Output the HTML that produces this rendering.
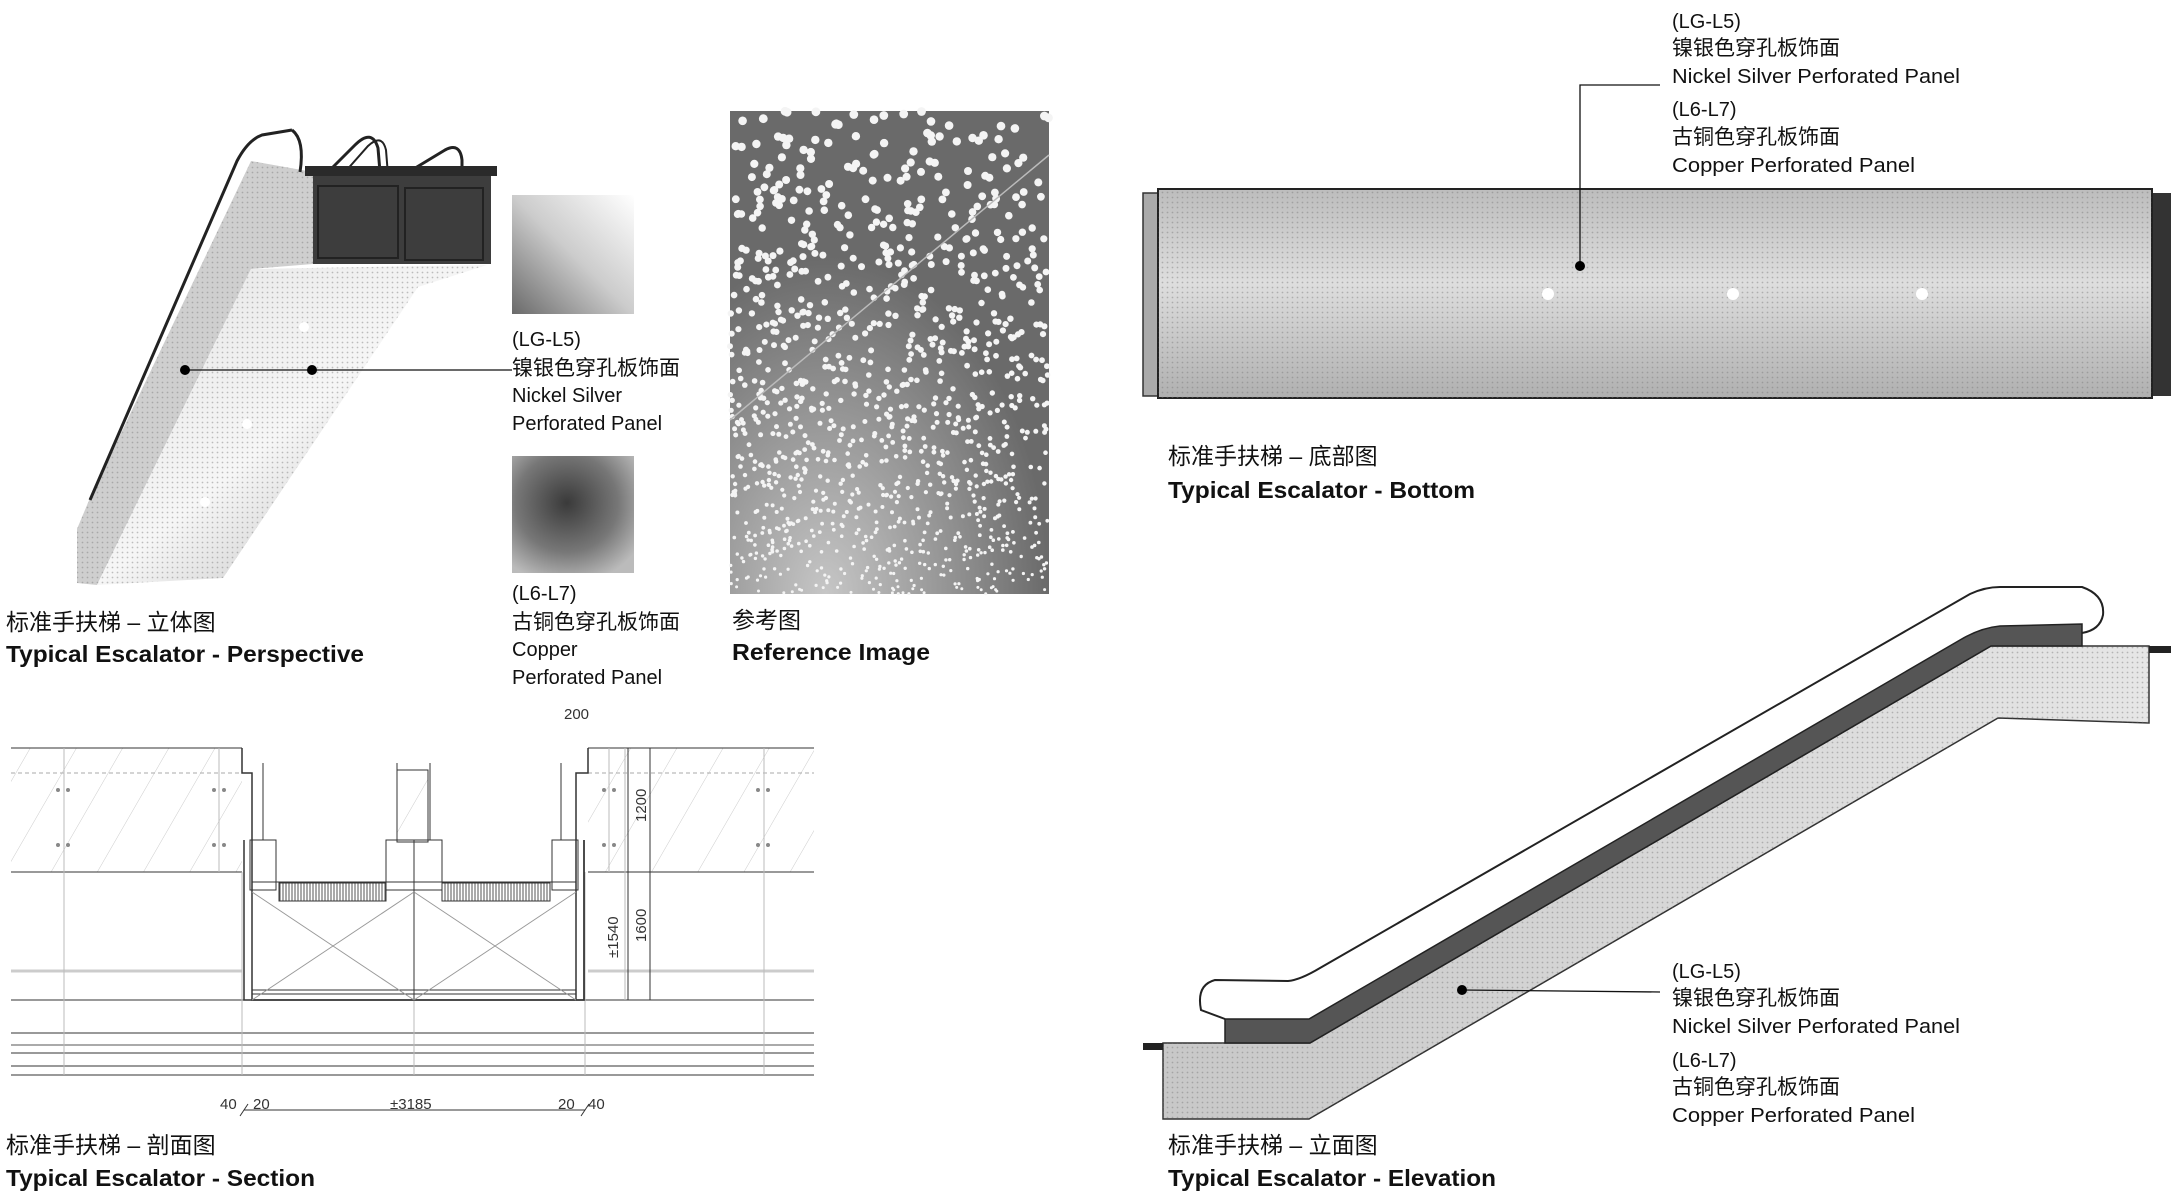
<!DOCTYPE html>
<html><head><meta charset="utf-8"><style>
html,body{margin:0;padding:0;background:#fff;width:2173px;height:1192px;overflow:hidden}
svg{display:block}
text{font-family:"Liberation Sans","Noto Sans CJK SC",sans-serif;fill:#111}
.lb{font-size:20px}
.cn{font-size:21px}
.capc{font-size:23px}
.cap{font-size:23px;font-weight:bold}
.dim{font-size:15px;fill:#333}
</style></head><body>
<svg id="s" width="2173" height="1192" viewBox="0 0 2173 1192" xmlns="http://www.w3.org/2000/svg">
<defs>
<pattern id="perf" width="5" height="5" patternUnits="userSpaceOnUse"><rect width="5" height="5" fill="none"/><circle cx="2.5" cy="2.5" r="0.9" fill="#777" opacity=".45"/></pattern>
<pattern id="hatch" width="40" height="40" patternUnits="userSpaceOnUse" patternTransform="rotate(30)"><line x1="0" y1="0" x2="0" y2="40" stroke="#ccc" stroke-width="1"/></pattern>
<pattern id="vh" width="3" height="10" patternUnits="userSpaceOnUse"><line x1="1" y1="0" x2="1" y2="10" stroke="#555" stroke-width="1"/></pattern>
<linearGradient id="sw1" x1="1" y1="0" x2="0" y2="1"><stop offset="0" stop-color="#fff"/><stop offset=".5" stop-color="#ccc"/><stop offset="1" stop-color="#6a6a6a"/></linearGradient>
<radialGradient id="sw2" cx=".45" cy=".4" r=".7"><stop offset="0" stop-color="#3a3a3a"/><stop offset=".6" stop-color="#777"/><stop offset="1" stop-color="#bbb"/></radialGradient>
<linearGradient id="bot" x1="0" y1="0" x2="0" y2="1"><stop offset="0" stop-color="#bdbdbd"/><stop offset=".45" stop-color="#dedede"/><stop offset="1" stop-color="#b0b0b0"/></linearGradient>
<linearGradient id="pbody" x1="0" y1="0" x2="1" y2="1"><stop offset="0" stop-color="#e4e4e4"/><stop offset=".5" stop-color="#f6f6f6"/><stop offset="1" stop-color="#aaa"/></linearGradient>
<linearGradient id="elev" x1="0" y1="0" x2="1" y2="0"><stop offset="0" stop-color="#c8c8c8"/><stop offset="1" stop-color="#e6e6e6"/></linearGradient>
<radialGradient id="refg" cx=".3" cy="1" r=".7"><stop offset="0" stop-color="#ddd"/><stop offset=".6" stop-color="#999"/><stop offset="1" stop-color="#6a6a6a"/></radialGradient>
</defs>

<!-- PERSPECTIVE -->
<g>
<path d="M251,161 L313,172 L313,264 L251,269 L97,585 L77,583 L77,529 L90,498 Z" fill="#cfcfcf"/>
<path d="M251,161 L313,172 L313,264 L251,269 L97,585 L77,583 L77,529 L90,498 Z" fill="url(#perf)"/>
<path d="M251,269 L487,265 L418,287 L223,578 L97,585 Z" fill="url(#pbody)"/>
<path d="M251,269 L487,265 L418,287 L223,578 L97,585 Z" fill="url(#perf)"/>
<path d="M90,500 L237,161 Q248,140 262,135 L292,130" fill="none" stroke="#222" stroke-width="3"/>
<path d="M292,130 Q305,140 300,172" fill="none" stroke="#222" stroke-width="3"/>
<path d="M330,170 L355,145 Q372,128 378,148 L380,172" fill="none" stroke="#222" stroke-width="3"/>
<path d="M345,172 L368,146 Q382,133 386,150 L388,175" fill="none" stroke="#222" stroke-width="2"/>
<path d="M402,176 L445,150 Q460,142 462,160 L462,182" fill="none" stroke="#222" stroke-width="3"/>
<rect x="313" y="172" width="178" height="92" fill="#3d3d3d"/>
<rect x="318" y="186" width="80" height="72" fill="none" stroke="#222" stroke-width="2"/>
<rect x="405" y="188" width="78" height="72" fill="none" stroke="#222" stroke-width="2"/>
<rect x="305" y="166" width="192" height="10" fill="#2a2a2a"/>
<circle cx="304" cy="327" r="5" fill="#fff"/><circle cx="247" cy="424" r="5" fill="#fff"/><circle cx="205" cy="502" r="5" fill="#fff"/>
<line x1="185" y1="370" x2="512" y2="370" stroke="#111" stroke-width="1.3"/>
<circle cx="185" cy="370" r="5" fill="#000"/><circle cx="312" cy="370" r="5" fill="#000"/>
</g>
<rect x="512" y="195" width="122" height="119" fill="url(#sw1)"/>
<rect x="512" y="456" width="122" height="117" fill="url(#sw2)"/>
<text class="lb" x="512" y="346">(LG-L5)</text>
<text class="cn" x="512" y="375">镍银色穿孔板饰面</text>
<text class="lb" x="512" y="402">Nickel Silver</text>
<text class="lb" x="512" y="430">Perforated Panel</text>
<text class="lb" x="512" y="600">(L6-L7)</text>
<text class="cn" x="512" y="629">古铜色穿孔板饰面</text>
<text class="lb" x="512" y="656">Copper</text>
<text class="lb" x="512" y="684">Perforated Panel</text>
<text class="capc" x="6" y="630">标准手扶梯 – 立体图</text>
<text class="cap" x="6" y="662" textLength="358" lengthAdjust="spacingAndGlyphs">Typical Escalator - Perspective</text>

<!-- reference image -->
<rect x="730" y="111" width="319" height="483" fill="#6a6a6a"/>
<rect x="730" y="111" width="319" height="483" fill="url(#refg)" opacity=".8"/>
<g id="dots"></g>
<line x1="730" y1="420" x2="1049" y2="155" stroke="#bbb" stroke-width="1.5"/>
<text class="capc" x="732" y="628">参考图</text>
<text class="cap" x="732" y="660" textLength="198" lengthAdjust="spacingAndGlyphs">Reference Image</text>

<!-- BOTTOM -->
<rect x="1143" y="193" width="24" height="203" fill="#aaa" stroke="#333" stroke-width="1.5"/>
<rect x="2150" y="193" width="21" height="203" fill="#333"/>
<rect x="1158" y="189" width="994" height="209" fill="url(#bot)" stroke="#222" stroke-width="2"/>
<rect x="1158" y="189" width="994" height="209" fill="url(#perf)"/>
<circle cx="1548" cy="294" r="6" fill="#fff"/><circle cx="1733" cy="294" r="6" fill="#fff"/><circle cx="1922" cy="294" r="6" fill="#fff"/>
<polyline points="1660,85 1580,85 1580,266" fill="none" stroke="#111" stroke-width="1.3"/>
<circle cx="1580" cy="266" r="5" fill="#000"/>
<text class="lb" x="1672" y="28">(LG-L5)</text>
<text class="cn" x="1672" y="55">镍银色穿孔板饰面</text>
<text class="lb" x="1672" y="83" textLength="288" lengthAdjust="spacingAndGlyphs">Nickel Silver Perforated Panel</text>
<text class="lb" x="1672" y="116">(L6-L7)</text>
<text class="cn" x="1672" y="144">古铜色穿孔板饰面</text>
<text class="lb" x="1672" y="172" textLength="243" lengthAdjust="spacingAndGlyphs">Copper Perforated Panel</text>
<text class="capc" x="1168" y="464">标准手扶梯 – 底部图</text>
<text class="cap" x="1168" y="498" textLength="307" lengthAdjust="spacingAndGlyphs">Typical Escalator - Bottom</text>

<!-- SECTION -->
<g stroke="#333" fill="none">
<rect x="11" y="748" width="231" height="124" fill="url(#hatch)" stroke="none"/>
<rect x="588" y="748" width="226" height="124" fill="url(#hatch)" stroke="none"/>
<line x1="11" y1="748" x2="242" y2="748"/><line x1="588" y1="748" x2="814" y2="748"/>
<line x1="11" y1="872" x2="242" y2="872"/><line x1="588" y1="872" x2="814" y2="872"/>
<line x1="11" y1="773" x2="242" y2="773" stroke="#aaa" stroke-dasharray="4 3"/>
<line x1="588" y1="773" x2="814" y2="773" stroke="#aaa" stroke-dasharray="4 3"/>
<line x1="11" y1="971" x2="242" y2="971" stroke="#ccc" stroke-width="3"/>
<line x1="588" y1="971" x2="814" y2="971" stroke="#ccc" stroke-width="3"/>
<line x1="11" y1="1000" x2="814" y2="1000"/>
<line x1="11" y1="1033" x2="814" y2="1033"/>
<line x1="11" y1="1045" x2="814" y2="1045" stroke="#aaa" stroke-width="2"/>
<line x1="11" y1="1053" x2="814" y2="1053"/>
<line x1="11" y1="1066" x2="814" y2="1066" stroke="#999" stroke-width="2"/>
<line x1="11" y1="1075" x2="814" y2="1075"/>
<g stroke="#bbb" stroke-width="1">
<line x1="64" y1="748" x2="64" y2="1075"/><line x1="219" y1="748" x2="219" y2="872"/>
<line x1="242" y1="872" x2="242" y2="1075"/><line x1="414" y1="1000" x2="414" y2="1075"/>
<line x1="585" y1="872" x2="585" y2="1075"/><line x1="764" y1="748" x2="764" y2="1075"/>
<line x1="609" y1="748" x2="609" y2="872"/><line x1="625" y1="748" x2="625" y2="1000"/>
</g>
<polyline points="242,748 242,773 252,773 252,1000 584,1000 584,840" stroke-width="1.5"/>
<polyline points="588,748 588,773 576,773 576,1000" stroke-width="1.5"/>
<polyline points="244,840 244,1000 584,1000 584,840" stroke-width="1.5"/>
<line x1="252" y1="990" x2="576" y2="990"/><line x1="252" y1="994" x2="576" y2="994"/>
<line x1="414" y1="840" x2="414" y2="1000"/>
<line x1="252" y1="892" x2="414" y2="1000" stroke="#999"/><line x1="414" y1="892" x2="252" y2="1000" stroke="#999"/>
<line x1="414" y1="892" x2="576" y2="1000" stroke="#999"/><line x1="576" y1="892" x2="414" y2="1000" stroke="#999"/>
<rect x="397" y="770" width="31" height="72" fill="url(#hatch)"/>
<line x1="263" y1="763" x2="263" y2="840"/><line x1="397" y1="763" x2="397" y2="840"/>
<line x1="430" y1="763" x2="430" y2="840"/><line x1="561" y1="763" x2="561" y2="840"/>
<rect x="250" y="840" width="26" height="50" stroke-width="1"/><rect x="386" y="840" width="56" height="50" stroke-width="1"/><rect x="552" y="840" width="26" height="50" stroke-width="1"/>
<line x1="252" y1="882" x2="576" y2="882"/>
<rect x="279" y="883" width="107" height="18" fill="url(#vh)" stroke="#333"/>
<rect x="442" y="883" width="108" height="18" fill="url(#vh)" stroke="#333"/>
<line x1="244" y1="1110" x2="585" y2="1110" stroke-width="1"/>
<line x1="240" y1="1116" x2="248" y2="1104"/><line x1="581" y1="1116" x2="589" y2="1104"/>
<line x1="650" y1="748" x2="650" y2="1000" stroke-width="1"/>
<line x1="628" y1="748" x2="628" y2="1000" stroke-width="1"/>
</g>
<g fill="#888"><circle cx="58" cy="790" r="2"/><circle cx="68" cy="790" r="2"/><circle cx="214" cy="790" r="2"/><circle cx="224" cy="790" r="2"/><circle cx="58" cy="845" r="2"/><circle cx="68" cy="845" r="2"/><circle cx="214" cy="845" r="2"/><circle cx="224" cy="845" r="2"/><circle cx="604" cy="790" r="2"/><circle cx="614" cy="790" r="2"/><circle cx="758" cy="790" r="2"/><circle cx="768" cy="790" r="2"/><circle cx="604" cy="845" r="2"/><circle cx="614" cy="845" r="2"/><circle cx="758" cy="845" r="2"/><circle cx="768" cy="845" r="2"/></g>
<text class="dim" x="564" y="719">200</text>
<text class="dim" transform="translate(646,822) rotate(-90)">1200</text>
<text class="dim" transform="translate(618,958) rotate(-90)">±1540</text>
<text class="dim" transform="translate(646,942) rotate(-90)">1600</text>
<text class="dim" x="220" y="1109">40</text><text class="dim" x="253" y="1109">20</text>
<text class="dim" x="390" y="1109">±3185</text>
<text class="dim" x="558" y="1109">20</text><text class="dim" x="588" y="1109">40</text>
<text class="capc" x="6" y="1153">标准手扶梯 – 剖面图</text>
<text class="cap" x="6" y="1186" textLength="309" lengthAdjust="spacingAndGlyphs">Typical Escalator - Section</text>

<!-- ELEVATION -->
<path d="M1225,1019 L1201,1010 Q1196,985 1215,980 L1288,981 Q1300,980 1320,968 L1970,594 Q1985,587 2000,587 L2082,587 Q2105,595 2103,615 Q2100,630 2082,633" fill="#fff" stroke="#222" stroke-width="2"/>
<path d="M1163,1043 L1310,1043 L1991,646 L2149,646 L2149,723 L1998,718 L1309,1119 L1163,1119 Z" fill="url(#elev)" stroke="#333" stroke-width="1.5"/>
<path d="M1163,1043 L1310,1043 L1991,646 L2149,646 L2149,723 L1998,718 L1309,1119 L1163,1119 Z" fill="url(#perf)"/>
<path d="M1225,1043 L1225,1019 L1309,1019 L1960,640 Q1980,628 2000,626 L2082,624 L2082,646 L1991,646 L1310,1043 Z" fill="#555" stroke="#222" stroke-width="1.5"/>
<rect x="1143" y="1043" width="20" height="7" fill="#222"/>
<rect x="2149" y="646" width="22" height="7" fill="#222"/>
<line x1="1462" y1="990" x2="1660" y2="992" stroke="#111" stroke-width="1.3"/>
<circle cx="1462" cy="990" r="5" fill="#000"/>
<text class="lb" x="1672" y="978">(LG-L5)</text>
<text class="cn" x="1672" y="1005">镍银色穿孔板饰面</text>
<text class="lb" x="1672" y="1033" textLength="288" lengthAdjust="spacingAndGlyphs">Nickel Silver Perforated Panel</text>
<text class="lb" x="1672" y="1067">(L6-L7)</text>
<text class="cn" x="1672" y="1094">古铜色穿孔板饰面</text>
<text class="lb" x="1672" y="1122" textLength="243" lengthAdjust="spacingAndGlyphs">Copper Perforated Panel</text>
<text class="capc" x="1168" y="1153">标准手扶梯 – 立面图</text>
<text class="cap" x="1168" y="1186" textLength="328" lengthAdjust="spacingAndGlyphs">Typical Escalator - Elevation</text>
</svg>
<script>
(function(){var g=document.getElementById('dots'),ns='http://www.w3.org/2000/svg',s=7;
function r(){s=(s*9301+49297)%233280;return s/233280;}
for(var i=0;i<1800;i++){var x=730+r()*319,y=111+r()*483,t=(y-111)/483;
if(r()>0.2+t*0.8)continue;var c=document.createElementNS(ns,'circle');
c.setAttribute('cx',x.toFixed(1));c.setAttribute('cy',y.toFixed(1));c.setAttribute('r',(4.4-t*2.9).toFixed(1));c.setAttribute('fill','#f4f4f4');g.appendChild(c);}})();
</script>
</body></html>
